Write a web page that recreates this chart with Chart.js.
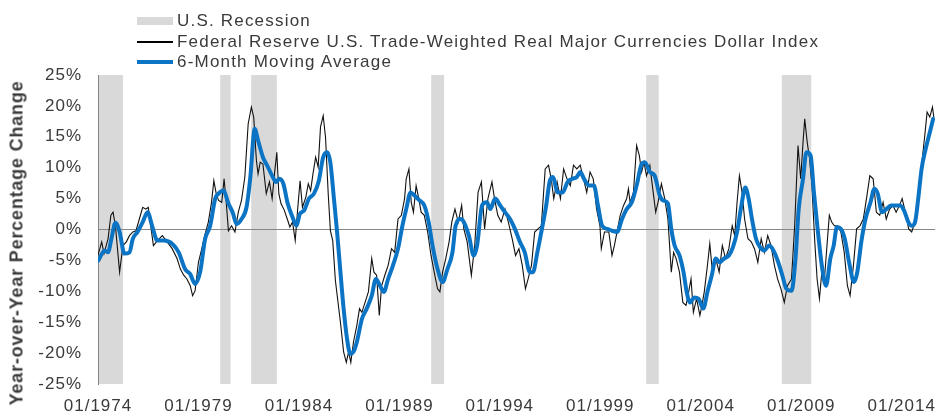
<!DOCTYPE html>
<html>
<head>
<meta charset="utf-8">
<script src="https://cdn.jsdelivr.net/npm/chart.js@4.4.1/dist/chart.umd.min.js"></script>
<style>
  html, body { margin: 0; padding: 0; background: #ffffff; }
  #wrap { position: relative; width: 948px; height: 417px; overflow: hidden; font-family: Arial, "Liberation Sans", sans-serif; }
  #c { position: absolute; left: 0; top: 0; }
  .lg { position: absolute; left: 177px; font-size: 17px; color: #3a3a3a; letter-spacing: 1.2px; white-space: nowrap; line-height: 20px; }
  .sw { position: absolute; left: 137px; width: 36px; }
  #ytitle { position: absolute; left: 17px; top: 243px; transform: translate(-50%, -50%) rotate(-90deg); font-weight: bold; font-size: 18px; color: #3a3a3a; white-space: nowrap; letter-spacing: 0.8px; }
</style>
</head>
<body>
<div id="wrap">
  <canvas id="c" width="948" height="417"></canvas>
  <div class="sw" style="top:17px;height:8px;background:#d9d9d9;"></div>
  <div class="lg" style="top:11px;">U.S. Recession</div>
  <div class="sw" style="top:41px;height:1.5px;background:#000;"></div>
  <div class="lg" style="top:32px;">Federal Reserve U.S. Trade-Weighted Real Major Currencies Dollar Index</div>
  <div class="sw" style="top:60px;height:4px;background:#0b74c4;"></div>
  <div class="lg" style="top:52px;">6-Month Moving Average</div>
  <div id="ytitle">Year-over-Year Percentage Change</div>
</div>
<script>
// x values are months since 01/1974
const tickMonths = [0, 60, 120, 180, 240, 300, 360, 420, 480];
const tickLabels = ['01/1974', '01/1979', '01/1984', '01/1989', '01/1994', '01/1999', '01/2004', '01/2009', '01/2014'];
const yTicks = [-25, -20, -15, -10, -5, 0, 5, 10, 15, 20, 25];

const recessionStarts = [0, 73, 91.5, 199, 327.4, 408.4];
const recessionEnds   = [14.9, 79.2, 106.8, 206.7, 334.9, 426];

const rawMonths = [0,2.2,3.6,6,7.7,9,10.4,12.9,14.9,16.9,18.8,20.8,22.7,24.7,26.7,28.6,30,31.2,33.1,35.5,38.4,41.3,44.3,47.2,49.2,51.2,53.1,55.1,56.5,58,60,62,64,65.9,67.8,69.2,70.6,72,73.9,75.3,76.5,77.9,79.8,81.8,83.8,85.7,87.7,89.7,91.6,93,94.6,95.6,96.9,98.5,100.5,102.4,104,105.4,106.8,108,109.3,111.3,113.3,114.6,116.2,117.8,119.2,120.7,122.1,124.1,125.6,127,128.4,130,131.5,132.9,134.5,135.9,137.5,138.8,140.2,141.8,144.8,146.7,148.3,149.7,151,152.6,154.6,156.2,157.6,159.5,161.5,163.5,164.8,166.4,168,169.4,171.3,173.3,175.3,177.2,179.2,181.2,183.1,184.1,185.7,187.1,188.4,190,191.6,193,194.9,196.9,198.9,200.8,202.8,204.2,205.8,207.7,209.7,211.3,213.2,215.2,217.2,218.5,220.5,223,225,227,229,230.9,232.9,235.3,236.8,238.8,240.8,243.1,245.1,247.4,249.4,251.4,253.4,255.3,256.9,258.9,260.8,262.8,264.8,267.1,269.1,270.7,272.2,274.2,276.2,278.1,280.1,282.1,284,286,288,290,291.9,293.9,295.8,297.8,299.8,300.6,302.5,305.1,307,308.5,310,311.9,313.9,315.8,316.8,317.8,319.8,321.7,323.3,324.7,326.1,327.6,329.6,331.6,333.1,334.5,336.5,338.5,340.4,342.4,343.8,345.3,347.3,349.3,351.2,352.8,354.2,355.6,357.5,359.5,360.7,362.1,364,365.4,367,369,371,372.9,374.8,376.8,378.8,380.3,381.7,383.1,384.7,386.2,388.2,390.2,392.1,394.1,396.1,398,400,402,404,405.9,407.9,409.9,411.8,414.2,416.1,418.1,419.7,421.1,422.1,423.6,425,426.4,428,429.5,430.9,432.3,433.9,435.4,436.8,438.2,439.8,441.7,443.7,445.7,447.6,449.2,451.2,453.1,455.1,457.1,459,461,463,464.9,466.9,468.9,470.8,472.8,474.8,476.7,478.7,480.3,482.2,484.2,486,488,489.9,491.9,493.8,495.2,496.8,498.4,499.2];
const rawValues = [-4.2,-2.0,-3.9,-1.5,2.3,2.8,0.6,-6.9,-2.6,-2.0,-1.0,-0.4,-0.2,1.7,3.6,3.3,3.6,1.2,-2.6,-1.8,-1.0,-2.0,-3.1,-4.7,-6.4,-7.4,-8.0,-9.1,-10.7,-9.9,-5.3,-3.1,-0.7,1.2,4.4,7.9,5.8,4.7,4.4,8.2,4.7,-0.2,0.6,-0.4,2.8,4.7,8.5,17.1,19.8,18.2,11.2,9.0,10.9,10.6,5.8,7.7,5.0,9.0,12.5,5.8,4.2,3.1,1.5,0.4,1.2,-1.8,3.1,7.9,3.6,5.2,7.4,6.3,9.0,11.7,10.1,16.6,18.4,14.9,5.8,-0.2,-1.8,-8.3,-15.0,-19.8,-21.5,-19.8,-21.5,-18.2,-15.5,-12.8,-13.4,-11.8,-10.1,-4.7,-6.9,-7.4,-13.9,-9.1,-7.4,-5.8,-3.1,-3.7,1.7,2.3,5.0,8.2,9.8,4.4,2.8,7.1,5.0,2.8,2.3,-0.4,-4.2,-6.9,-9.6,-10.1,-6.9,-4.7,-2.0,1.2,3.3,1.2,3.9,0.1,-2.0,-7.4,-2.6,6.0,7.7,0.1,5.0,7.7,5.0,2.3,1.2,3.3,1.2,-1.5,-4.2,-3.1,-5.8,-9.6,-8.0,-5.8,-0.4,0.1,0.6,9.8,10.4,8.2,5.0,7.7,5.0,9.8,8.2,7.1,10.4,9.8,10.4,8.2,6.0,9.3,8.2,3.3,0.6,-3.1,-0.4,-0.4,-4.2,-2.5,-0.4,2.3,3.9,5.0,6.6,4.4,6.0,13.6,12.0,9.3,10.9,8.7,10.4,6.0,2.8,4.4,7.4,5.0,1.7,-6.9,-3.7,-4.7,-6.9,-11.8,-12.3,-10.1,-8.0,-13.4,-11.2,-13.9,-12.3,-10.1,-5.8,-2.3,-6.9,-4.7,-6.9,-2.6,-4.7,-3.1,0.6,-1.0,4.4,8.7,6.0,1.7,-1.5,-2.0,-3.1,-5.3,-1.5,-3.7,-1.0,-2.6,-5.8,-8.0,-9.6,-11.8,-9.1,-8.0,0.6,13.6,8.2,14.1,17.9,14.1,11.4,7.1,-1.5,-8.0,-11.2,-6.9,-8.0,-2.6,2.3,1.2,0.6,0.6,-0.4,-3.7,-9.1,-10.7,-5.8,0.1,0.6,1.7,5.0,8.7,8.2,2.8,2.3,4.4,1.7,3.3,3.9,2.8,3.9,5.0,2.8,0.1,-0.4,1.2,6.0,10.4,15.2,19.0,18.2,19.8,18.2];

const avgMonths = [0.2,4,6,8,10.4,12.9,15.8,18.8,20.8,23.6,26.7,29.6,32.5,35.5,39.5,44.3,48.2,52,55,58,61,64,67,70,72,74.9,77.9,80.4,82.8,85.7,88.7,91,93.6,95.6,98.5,101.5,104,106.4,108.3,110.7,113.3,116.2,118.6,120.5,123.1,126,129,131.9,134.5,136.9,138.8,140.8,142.8,144.8,146.7,148.7,150.7,152.6,154.6,157.6,160.5,163.5,166,168.4,170.7,173.3,176.2,179.2,181.8,184.1,186.7,189,192,194.9,197.5,199.8,202.8,205.8,208.7,211.7,213.6,216.6,218.5,221.5,224.4,226.4,229.4,232.3,234.3,237.2,240.2,243.1,246.1,249,252,254.9,257.9,259.8,262.4,264.8,267.7,269.7,271.6,274.6,277.5,280.5,283.4,286,288,290.3,293.3,296.2,298.6,301.1,304.1,307,310,313,315.8,318.8,321.7,324.7,326.6,329.6,332.5,335.5,337.5,340.4,342.4,344.4,347.3,349.7,351.6,353.6,356.2,358.7,361.5,364,366.6,369,371.3,373.9,376.8,379.2,381.7,384.3,386.6,388.6,390.6,393,395.5,398,400.8,403.4,406.3,408.7,411.2,414.2,416.6,418.5,421.1,423.1,425.6,427.6,430,432.3,434.8,437.4,439.4,441.3,443.7,446,448.6,451.6,453.5,455.9,458.4,461.4,463.7,465.7,468.3,470.8,473.6,476.1,479.1,481.4,484,486,488,489.9,491.9,494.4,496.8,498.8];
const avgValues = [-5.0,-3.4,-3.7,-1.5,1.1,-0.4,-3.9,-3.7,-1.5,-0.4,1.2,2.8,0.4,-1.8,-1.8,-2.3,-3.7,-6.4,-7.2,-8.8,-6.9,-1.5,0.6,5.0,5.8,6.3,4.2,2.8,0.9,1.7,3.6,8.5,16.3,14.4,11.7,10.1,8.7,7.7,8.2,7.4,4.2,2.0,0.6,2.5,3.1,5.0,5.8,7.9,11.7,12.5,10.8,5.3,-0.4,-6.9,-12.8,-17.6,-20.1,-19.8,-18.2,-14.5,-12.8,-10.7,-8.0,-9.1,-10.1,-8.0,-5.8,-3.1,0.6,3.3,6.0,5.5,4.7,3.9,1.2,-2.6,-6.4,-8.5,-6.4,-3.7,0.6,1.7,1.2,-1.0,-4.2,-2.6,3.9,4.4,3.3,5.0,3.9,2.8,1.7,0.1,-2.0,-3.7,-6.9,-6.9,-3.7,-0.4,3.9,7.7,8.5,6.0,6.0,7.7,8.2,8.5,9.3,8.2,7.1,7.1,3.9,0.6,0.1,-0.2,-0.4,1.7,3.3,4.4,7.1,10.6,10.9,9.3,8.7,5.5,4.7,4.2,0.1,-2.6,-4.2,-6.9,-10.1,-11.8,-11.0,-11.2,-12.8,-10.1,-7.4,-4.7,-5.3,-4.7,-4.2,-2.9,-0.4,3.9,6.8,5.0,1.7,-1.5,-2.9,-3.4,-2.6,-3.4,-5.3,-7.4,-9.6,-9.9,-4.7,3.3,8.2,12.5,12.0,6.0,-0.4,-5.8,-9.1,-4.7,-2.6,0.4,0.1,-1.5,-5.3,-8.5,-6.9,-2.0,1.7,4.4,6.6,5.8,2.8,3.3,3.9,3.9,3.9,3.1,1.2,0.6,1.2,5.0,9.8,13.1,15.7,17.9];

const FONT = 'Arial, "Liberation Sans", sans-serif';
const TEXT = '#3a3a3a';

const spacingPlugin = {
  id: 'spacing',
  beforeLayout(chart) { try { chart.ctx.letterSpacing = '1px'; } catch (e) {} },
  beforeDraw(chart) { try { chart.ctx.letterSpacing = '1px'; } catch (e) {} }
};

const recessionPlugin = {
  id: 'recessions',
  beforeDraw(chart) {
    const { ctx, chartArea, scales } = chart;
    const xs = scales.x;
    ctx.save();
    ctx.fillStyle = '#d9d9d9';
    for (let i = 0; i < recessionStarts.length; i++) {
      const s = Math.max(recessionStarts[i], xs.min);
      const e = Math.min(recessionEnds[i], xs.max);
      const x1 = xs.getPixelForValue(s);
      const x2 = xs.getPixelForValue(e);
      ctx.fillRect(x1, chartArea.top, x2 - x1, chartArea.bottom - chartArea.top);
    }
    ctx.restore();
  }
};

new Chart(document.getElementById('c'), {
  type: 'line',
  data: {
    datasets: [
      {
        label: '6-Month Moving Average',
        data: avgMonths.map((m, i) => ({ x: m, y: avgValues[i] })),
        borderColor: '#0b74c4',
        borderWidth: 4,
        pointRadius: 0,
        cubicInterpolationMode: 'monotone',
        borderJoinStyle: 'round',
        borderCapStyle: 'round',
        order: 0
      },
      {
        label: 'Federal Reserve U.S. Trade-Weighted Real Major Currencies Dollar Index',
        data: rawMonths.map((m, i) => ({ x: m, y: rawValues[i] })),
        borderColor: '#111111',
        borderWidth: 1.1,
        pointRadius: 0,
        tension: 0,
        order: 1
      }
    ]
  },
  options: {
    responsive: false,
    animation: false,
    events: [],
    layout: { padding: { left: 38, top: 75, right: 3, bottom: 0 } },
    plugins: { legend: { display: false }, tooltip: { enabled: false } },
    scales: {
      x: {
        type: 'linear',
        min: 0,
        max: 500,
        afterFit(s) { s.height = 33; },
        afterBuildTicks(s) { s.ticks = tickMonths.map(v => ({ value: v })); },
        grid: { display: false, drawTicks: false },
        border: { display: false },
        ticks: {
          padding: 12,
          autoSkip: false,
          maxRotation: 0,
          color: TEXT,
          font: { family: FONT, size: 17 },
          callback: (v) => tickLabels[tickMonths.indexOf(v)]
        }
      },
      y: {
        min: -25,
        max: 25,
        afterFit(s) { s.width = 60; },
        afterBuildTicks(s) { s.ticks = yTicks.map(v => ({ value: v })); },
        grid: {
          drawTicks: false,
          color: (c) => (c.tick && c.tick.value === 0 ? '#868686' : 'rgba(0,0,0,0)'),
          lineWidth: 1
        },
        border: { display: true, color: '#868686', width: 1 },
        ticks: {
          padding: 16,
          color: TEXT,
          font: { family: FONT, size: 17 },
          callback: (v) => v + '%'
        }
      }
    }
  },
  plugins: [spacingPlugin, recessionPlugin]
});
</script>
</body>
</html>
